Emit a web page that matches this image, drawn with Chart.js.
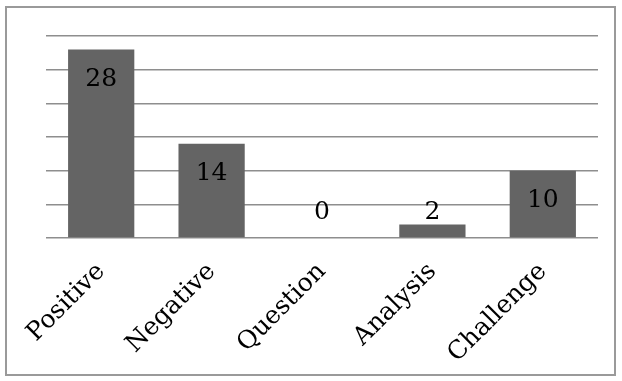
<!DOCTYPE html>
<html>
<head>
<meta charset="utf-8">
<script src="https://cdn.jsdelivr.net/npm/chart.js@4.4.1/dist/chart.umd.min.js"></script>
<style>
  html, body { margin: 0; padding: 0; background: #ffffff; }
  #wrap { width: 622px; height: 381px; position: relative; }
</style>
</head>
<body>
<div id="wrap"><canvas id="chart" width="622" height="381"></canvas></div>
<script>
const categories = ['Positive', 'Negative', 'Question', 'Analysis', 'Challenge'];
const counts = [28, 14, 0, 2, 10];
const yMin = 0;
const yMax = 30;
const yStep = 5;

const SERIF = '"DejaVu Serif", "Liberation Serif", serif';

// Frame around the whole figure
const framePlugin = {
  id: 'frame',
  beforeDraw(chart) {
    const ctx = chart.ctx;
    ctx.save();
    ctx.fillStyle = '#ffffff';
    ctx.fillRect(0, 0, chart.width, chart.height);
    ctx.strokeStyle = '#9a9a9a';
    ctx.lineWidth = 2;
    ctx.strokeRect(6, 7, 609, 368);
    ctx.restore();
  }
};

// Value labels: inside the top of the bar, or above it when the bar is short
const valueLabels = {
  id: 'valueLabels',
  afterDatasetsDraw(chart) {
    const ctx = chart.ctx;
    const meta = chart.getDatasetMeta(0);
    const base = chart.scales.y.getPixelForValue(0);
    ctx.save();
    ctx.font = '25px ' + SERIF;
    ctx.fillStyle = '#000000';
    ctx.textAlign = 'center';
    ctx.textBaseline = 'middle';
    meta.data.forEach((bar, i) => {
      const y = Math.min(bar.y + 30, base - 26);
      ctx.fillText(String(counts[i]), bar.x, y);
    });
    ctx.restore();
  }
};

new Chart(document.getElementById('chart'), {
  type: 'bar',
  data: {
    labels: categories,
    datasets: [{
      data: counts,
      backgroundColor: '#646464',
      borderWidth: 0,
      barPercentage: 0.6,
      categoryPercentage: 1.0
    }]
  },
  options: {
    responsive: false,
    animation: false,
    layout: { padding: { left: 46, right: 24, top: 36, bottom: 0 } },
    plugins: { legend: { display: false }, tooltip: { enabled: false } },
    scales: {
      x: {
        grid: { display: false, drawTicks: false },
        border: { display: false },
        ticks: {
          font: { family: SERIF, size: 25 },
          color: '#000000',
          minRotation: 45,
          maxRotation: 45,
          padding: 19
        },
        afterFit(scale) { scale.height = 381 - 238; }
      },
      y: {
        min: yMin,
        max: yMax,
        ticks: { display: false, stepSize: yStep },
        grid: { color: '#8e8e8e', lineWidth: 1.5, drawTicks: false },
        border: { display: false },
        afterFit(scale) { scale.width = 0; }
      }
    }
  },
  plugins: [framePlugin, valueLabels]
});
</script>
</body>
</html>
